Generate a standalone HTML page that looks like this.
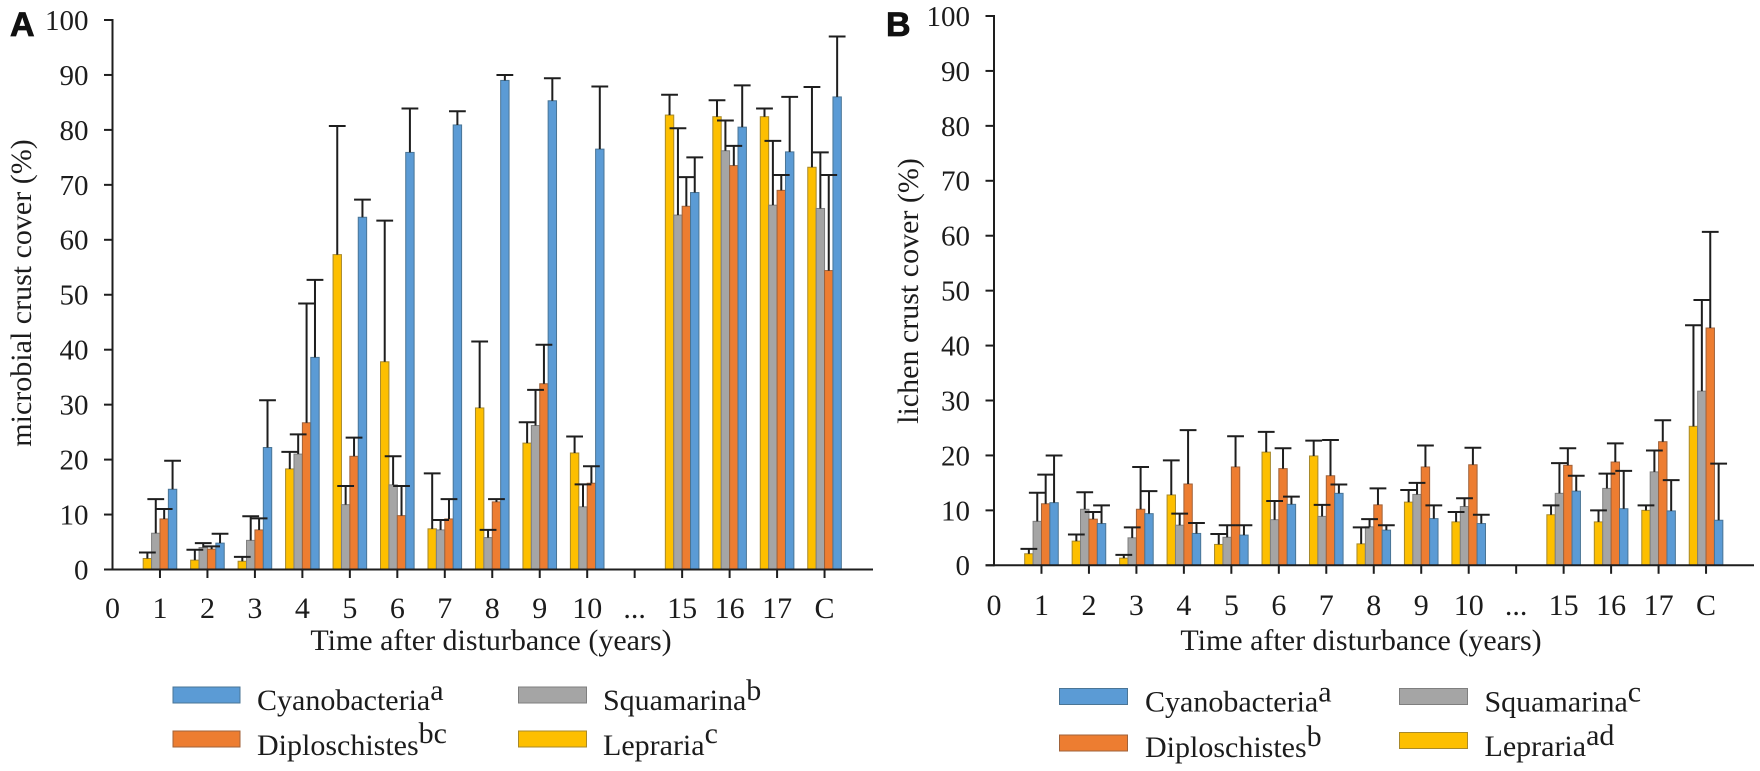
<!DOCTYPE html>
<html lang="en">
<head>
<meta charset="utf-8">
<title>Microbial and lichen crust cover after disturbance</title>
<style>
  html, body { margin: 0; padding: 0; background: #fff; }
  svg { display: block; }
  text { font-family: "Liberation Serif", serif; fill: #1c1c1c; }
  .panel { font-family: "Liberation Sans", sans-serif; font-weight: 700; font-size: 34px; fill: #111; stroke: #111; stroke-width: .8px; }
  .lg { font-size: 30px; }
  .lg tspan { font-size: 30px; }
  .title { font-size: 30px; }
</style>
</head>
<body>
<svg id="chart" xmlns="http://www.w3.org/2000/svg" width="1760" height="771" viewBox="0 0 1760 771">
  <rect width="1760" height="771" fill="#fff"/>

  <g id="panelA">
    <text class="panel" x="10" y="36">A</text>
    <text class="title" transform="translate(31 293) rotate(-90)" text-anchor="middle">microbial crust cover (%)</text>
    <text class="title" x="491" y="650" text-anchor="middle">Time after disturbance (years)</text>
  </g>

  <g id="panelB">
    <text class="panel" x="886" y="36">B</text>
    <text class="title" transform="translate(918 291) rotate(-90)" text-anchor="middle">lichen crust cover (%)</text>
    <text class="title" x="1361" y="650" text-anchor="middle">Time after disturbance (years)</text>
  </g>

  <g>
    <g>
      <rect x="173" y="687" width="67" height="16" fill="#5b9bd5" stroke="#4a7596"/>
      <text class="lg" x="257" y="710">Cyanobacteria<tspan dy="-10">a</tspan></text>
    </g>
    <g>
      <rect x="173" y="731" width="67" height="16" fill="#ed7d31" stroke="#a0623a"/>
      <text class="lg" x="257" y="755">Diploschistes<tspan dy="-12">bc</tspan></text>
    </g>
    <g>
      <rect x="518.5" y="687" width="68" height="16" fill="#a5a5a5" stroke="#7f7f7f"/>
      <text class="lg" x="603" y="710">Squamarina<tspan dy="-10">b</tspan></text>
    </g>
    <g>
      <rect x="518.5" y="731" width="68" height="16" fill="#fdbf00" stroke="#a8892a"/>
      <text class="lg" x="603" y="755">Lepraria<tspan dy="-12">c</tspan></text>
    </g>
  </g>

  <g>
    <g>
      <rect x="1059.5" y="688.5" width="68" height="16" fill="#5b9bd5" stroke="#4a7596"/>
      <text class="lg" x="1145" y="711.5">Cyanobacteria<tspan dy="-10">a</tspan></text>
    </g>
    <g>
      <rect x="1059.5" y="735" width="68" height="16" fill="#ed7d31" stroke="#a0623a"/>
      <text class="lg" x="1145" y="757">Diploschistes<tspan dy="-11">b</tspan></text>
    </g>
    <g>
      <rect x="1399.5" y="688.5" width="68" height="16" fill="#a5a5a5" stroke="#7f7f7f"/>
      <text class="lg" x="1484.5" y="711.5">Squamarina<tspan dy="-10">c</tspan></text>
    </g>
    <g>
      <rect x="1399.5" y="732.5" width="68" height="16" fill="#fdbf00" stroke="#a8892a"/>
      <text class="lg" x="1484.5" y="756">Lepraria<tspan dy="-11">ad</tspan></text>
    </g>
  </g>
</svg>

<script>
// Shared axis labels
const categories = ['0','1','2','3','4','5','6','7','8','9','10','...','15','16','17','C'];
const yTicks = [0,10,20,30,40,50,60,70,80,90,100];

// Panel A: mean cover (%) per category
const leprariaA = [null,2.0,1.7,1.5,18.3,57.3,37.8,7.4,29.4,23.0,21.2,null,82.7,82.4,82.4,73.2];
const squamarinaA = [null,6.6,4.0,5.3,21.0,11.8,15.4,7.2,5.8,26.2,11.4,null,64.5,76.2,66.3,65.7];
const diploschistesA = [null,9.2,3.7,7.2,26.7,20.6,9.8,9.2,12.3,33.8,15.7,null,66.1,73.5,69.0,54.4];
const cyanobacteriaA = [null,14.6,4.8,22.2,38.6,64.1,75.9,80.9,89.0,85.3,76.5,null,68.6,80.5,76.0,86.0];

// Panel A: top of the error bar (%) per category
const leprariaTopA = [null,3.1,3.6,2.3,21.4,80.7,63.5,17.5,41.5,26.8,24.2,null,86.4,85.4,83.9,87.8];
const squamarinaTopA = [null,12.8,4.8,9.7,24.6,15.2,20.6,9.0,7.2,32.7,15.5,null,80.3,81.7,78.0,75.9];
const diploschistesTopA = [null,11.0,4.2,9.3,48.4,24.0,15.2,12.8,12.8,40.9,18.8,null,71.4,77.1,71.8,71.8];
const cyanobacteriaTopA = [null,19.8,6.5,30.8,52.7,67.3,83.9,83.4,90.0,89.4,87.9,null,75.0,88.1,86.0,97.0];

// Panel B: mean cover (%) per category
const leprariaB = [null,2.1,4.4,1.3,12.8,3.8,20.6,19.9,3.9,11.5,7.9,null,9.2,7.9,10.0,25.3];
const squamarinaB = [null,8.0,10.2,5.0,7.3,5.1,8.3,8.9,7.0,12.9,10.7,null,13.1,14.0,17.0,31.7];
const diploschistesB = [null,11.2,8.4,10.2,14.8,17.9,17.6,16.3,11.0,17.9,18.3,null,18.2,18.8,22.5,43.2];
const cyanobacteriaB = [null,11.4,7.6,9.4,5.8,5.5,11.1,13.1,6.4,8.5,7.6,null,13.5,10.3,9.9,8.2];

// Panel B: top of the error bar (%) per category
const leprariaTopB = [null,3.0,5.6,1.9,19.1,5.7,24.3,22.7,6.9,13.7,9.7,null,10.9,10.0,10.9,43.7];
const squamarinaTopB = [null,13.2,13.3,6.9,9.4,7.3,11.7,11.0,8.4,15.0,12.2,null,18.6,16.7,20.9,48.3];
const diploschistesTopB = [null,16.5,9.7,17.9,24.6,23.5,21.3,22.8,14.0,21.8,21.4,null,21.3,22.2,26.4,60.7];
const cyanobacteriaTopB = [null,20.0,10.9,13.5,7.7,7.3,12.5,14.7,7.3,10.9,9.2,null,16.3,17.2,15.5,18.5];

const SVG_NS = 'http://www.w3.org/2000/svg';
const INK = '#1e1e1e';

function shape(parent, tag, attrs) {
  const el = document.createElementNS(SVG_NS, tag);
  for (const key in attrs) el.setAttribute(key, attrs[key]);
  parent.appendChild(el);
  return el;
}

function drawPanel(parent, layout, series) {
  const xScale = i => layout.x0 + i * 47.47;
  const yScale = v => layout.y0 - v * (layout.y0 - layout.y100) / 100;
  const barWidth = 8.4;
  const capHalf = 8.4;

  // Bars then error bars, in drawing order Lepraria to Cyanobacteria
  series.forEach(function (s, sIndex) {
    s.values.forEach(function (value, cat) {
      if (value === null) return;
      const left = xScale(cat) - 2 * barWidth + sIndex * barWidth;
      const bar = shape(parent, 'rect', {
        x: left, y: yScale(value), width: barWidth, height: layout.y0 - yScale(value),
        fill: s.fill, stroke: s.edge, 'stroke-width': 1
      });
      
      
    });
  });
  series.forEach(function (s, sIndex) {
    s.tops.forEach(function (top, cat) {
      if (top === null) return;
      const cx = xScale(cat) - 2 * barWidth + (sIndex + 0.5) * barWidth;
      const err = shape(parent, 'path', {
        d: 'M' + cx + ' ' + yScale(s.values[cat]) + 'V' + yScale(top) +
           'M' + (cx - capHalf) + ' ' + yScale(top) + 'H' + (cx + capHalf),
        fill: 'none', stroke: INK, 'stroke-width': 2
      });
      
      
    });
  });

  // Y axis, ticks and labels
  const yAxis = shape(parent, 'line', {
    x1: layout.x0, x2: layout.x0, y1: yScale(100) - 1, y2: layout.y0 + 1, stroke: INK, 'stroke-width': 2
  });
  
  
  yTicks.forEach(function (tick) {
    const mark = shape(parent, 'line', {
      x1: layout.x0 - 8.5, x2: layout.x0, y1: yScale(tick), y2: yScale(tick), stroke: INK, 'stroke-width': 2
    });
    
    
    const label = shape(parent, 'text', {
      x: layout.x0 - 24, y: yScale(tick) + 9.9, 'text-anchor': 'end', 'font-size': 29
    });
    label.textContent = tick;
    
    
  });

  // X axis, ticks and labels
  const xAxis = shape(parent, 'line', {
    x1: layout.x0 - 8.5, x2: layout.xEnd, y1: layout.y0, y2: layout.y0, stroke: INK, 'stroke-width': 2
  });
  
  
  categories.forEach(function (cat, i) {
    if (i > 0) {
      const mark = shape(parent, 'line', {
        x1: xScale(i), x2: xScale(i), y1: layout.y0, y2: layout.y0 + 8.5, stroke: INK, 'stroke-width': 2
      });
      
      
    }
    const label = shape(parent, 'text', {
      x: xScale(i), y: layout.labelY, 'text-anchor': 'middle', 'font-size': 30
    });
    label.textContent = cat;
    
    
  });
}

drawPanel(document.getElementById('panelA'),
  { x0: 112.5, y0: 569.5, y100: 20, xEnd: 873, labelY: 618 },
  [
    { name: 'lepraria', fill: '#fdbf00', edge: '#a8892a', values: leprariaA, tops: leprariaTopA },
    { name: 'squamarina', fill: '#a5a5a5', edge: '#7f7f7f', values: squamarinaA, tops: squamarinaTopA },
    { name: 'diploschistes', fill: '#ed7d31', edge: '#a0623a', values: diploschistesA, tops: diploschistesTopA },
    { name: 'cyanobacteria', fill: '#5b9bd5', edge: '#4a7596', values: cyanobacteriaA, tops: cyanobacteriaTopA }
  ]);

drawPanel(document.getElementById('panelB'),
  { x0: 994, y0: 565.3, y100: 16, xEnd: 1754, labelY: 615 },
  [
    { name: 'lepraria', fill: '#fdbf00', edge: '#a8892a', values: leprariaB, tops: leprariaTopB },
    { name: 'squamarina', fill: '#a5a5a5', edge: '#7f7f7f', values: squamarinaB, tops: squamarinaTopB },
    { name: 'diploschistes', fill: '#ed7d31', edge: '#a0623a', values: diploschistesB, tops: diploschistesTopB },
    { name: 'cyanobacteria', fill: '#5b9bd5', edge: '#4a7596', values: cyanobacteriaB, tops: cyanobacteriaTopB }
  ]);
</script>
</body>
</html>
